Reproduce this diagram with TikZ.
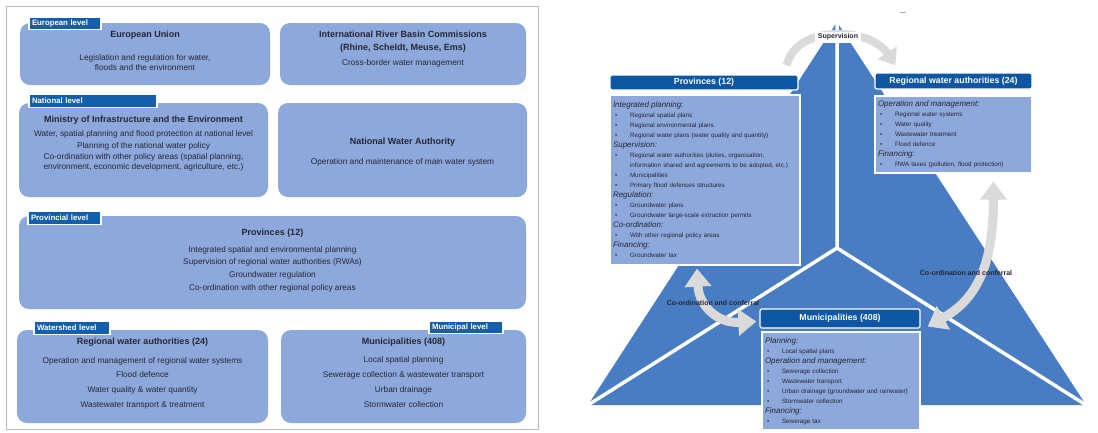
\documentclass[tikz,border=0pt]{standalone}
\usepackage{fontspec}
\setmainfont{Liberation Sans}
\usetikzlibrary{arrows.meta,calc}

\definecolor{boxblue}{RGB}{141,168,219}
\definecolor{tabblue}{RGB}{20,95,172}
\definecolor{hdrblue}{RGB}{12,86,162}
\definecolor{triblue}{RGB}{72,125,195}
\definecolor{arrgray}{RGB}{218,218,218}
\definecolor{ink}{RGB}{38,38,52}
\definecolor{framegray}{RGB}{185,185,185}

% list helpers for the responsibility boxes
\newcommand{\rphead}[1]{{\fontsize{8}{10}\selectfont\itshape #1}}
\newcommand{\rpitem}[1]{\hspace*{2pt}\makebox[15pt][l]{\textbullet}#1}
\newcommand{\rpcont}[1]{\hspace*{17pt}#1}

\begin{document}
\begin{tikzpicture}[x=1pt,y=-1pt,
  lbox/.style={fill=boxblue, rounded corners=10pt, inner sep=0pt},
  tab/.style={draw=white, line width=1.2pt, fill=tabblue, text=white,
    font=\fontsize{7.8}{9}\selectfont\bfseries, inner xsep=3pt, inner ysep=0pt,
    align=left, minimum height=12.5pt},
  ttl/.style={text=ink, font=\fontsize{9}{12.5}\selectfont\bfseries, align=center, inner sep=0pt},
  txt/.style={text=ink, font=\fontsize{8.3}{10}\selectfont, align=center, inner sep=0pt},
  hdr/.style={fill=hdrblue, draw=white, line width=1.3pt, rounded corners=2pt, text=white,
    font=\fontsize{8.8}{10}\selectfont\bfseries, inner sep=0pt},
  cbox/.style={fill=boxblue, draw=white, line width=1.3pt, text=ink, align=left,
    inner xsep=3pt, inner ysep=0pt, font=\fontsize{6.3}{10}\selectfont},
  coarr/.style={draw=arrgray, line width=9pt,
    arrows={Triangle[width=26pt,length=18pt]-Triangle[width=26pt,length=18pt]}},
  suparr/.style={draw=arrgray, line width=8pt, arrows={-Triangle[width=22pt,length=15pt]}},
  arrlabel/.style={text=ink, font=\fontsize{7}{8}\selectfont\bfseries, inner sep=0pt}
]
\useasboundingbox (0,0) rectangle (1098,432);
\fill[white] (0,0) rectangle (1098,432);

% ---------------- governance levels ----------------
\draw[framegray, line width=1pt] (6.5,6.5) rectangle (538,429);

% European level
\node[lbox, minimum width=250pt, minimum height=62pt] (eu) at (145,54) {};
\node[ttl] (eutitle) at (145,35) {European Union};
\node[txt] (eubody) at (145,63) {Legislation and regulation for water,\\floods and the environment};

\node[lbox, minimum width=246pt, minimum height=62pt] (irbc) at (403,54) {};
\node[ttl] (irbctitle) at (403,41.5) {International River Basin Commissions\\(Rhine, Scheldt, Meuse, Ems)};
\node[txt] (irbcbody) at (403,63) {Cross-border water management};

% National level
\node[lbox, minimum width=249pt, minimum height=94pt] (ministry) at (143.5,150) {};
\node[ttl] (mintitle) at (143.5,120) {Ministry of Infrastructure and the Environment};
\node[txt] (minone) at (143.5,134) {Water, spatial planning and flood protection at national level};
\node[txt] (mintwo) at (143.5,146) {Planning of the national water policy};
\node[txt] (minthree) at (143.5,162.5) {Co-ordination with other policy areas (spatial planning,\\environment, economic development, agriculture, etc.)};

\node[lbox, minimum width=249pt, minimum height=94pt] (nwa) at (402.5,150) {};
\node[ttl] (nwatitle) at (402.5,142) {National Water Authority};
\node[txt] (nwabody) at (402.5,162) {Operation and maintenance of main water system};

% Provincial level
\node[lbox, minimum width=507pt, minimum height=93pt] (prov) at (272.5,262.5) {};
\node[ttl] (provtitle) at (272.5,233) {Provinces (12)};
\node[txt, font=\fontsize{8.3}{12.7}\selectfont] (provbody) at (272.5,269)
  {Integrated spatial and environmental planning\\Supervision of regional water authorities (RWAs)\\Groundwater regulation\\Co-ordination with other regional policy areas};

% Watershed and municipal level
\node[lbox, minimum width=251pt, minimum height=93pt] (rwa) at (142.5,376.5) {};
\node[ttl] (rwatitle) at (142.5,342) {Regional water authorities (24)};
\node[txt, font=\fontsize{8.3}{14.7}\selectfont] (rwabody) at (142.5,383)
  {Operation and management of regional water systems\\Flood defence\\Water quality \& water quantity\\Wastewater transport \& treatment};

\node[lbox, minimum width=245pt, minimum height=93pt] (mun) at (403.5,376.5) {};
\node[ttl] (muntitle) at (403.5,342) {Municipalities (408)};
\node[txt, font=\fontsize{8.3}{14.7}\selectfont] (munbody) at (403.5,382)
  {Local spatial planning\\Sewerage collection \& wastewater transport\\Urban drainage\\Stormwater collection};

% level tabs
\node[tab, text width=66pt] (tabeu) at (65,23.5) {European level};
\node[tab, text width=122pt] (tabnat) at (93,101) {National level};
\node[tab, text width=67pt] (tabprov) at (64.5,218) {Provincial level};
\node[tab, text width=70pt] (tabws) at (72,328) {Watershed level};
\node[tab, text width=68pt] (tabmun) at (466,327.5) {Municipal level};

% ---------------- triangle of responsibilities ----------------
\coordinate (apex) at (837,22);
\coordinate (cornerL) at (588,405);
\coordinate (cornerR) at (1086,405);
\coordinate (hub) at (837,248);
\fill[triblue] (apex) -- (cornerL) -- (cornerR) -- cycle;
\draw[white, line width=3.5pt] (hub) -- (apex) (hub) -- (cornerL) (hub) -- (cornerR);
\draw[gray!70, line width=1pt] (900,12) -- (906,12);

% Provinces
\node[hdr, minimum width=188pt, minimum height=15pt] (provh) at (704,82.5) {Provinces (12)};
\node[cbox, text width=184pt, minimum height=170pt] (provc) at (705,180) {%
\rphead{Integrated planning:}\\
\rpitem{Regional spatial plans}\\
\rpitem{Regional environmental plans}\\
\rpitem{Regional water plans (water quality and quantity)}\\
\rphead{Supervision:}\\
\rpitem{Regional water authorities (duties, organisation,}\\
\rpcont{information shared and agreements to be adopted, etc.)}\\
\rpitem{Municipalities}\\
\rpitem{Primary flood defences structures}\\
\rphead{Regulation:}\\
\rpitem{Groundwater plans}\\
\rpitem{Groundwater large-scale extraction permits}\\
\rphead{Co-ordination:}\\
\rpitem{With other regional policy areas}\\
\rphead{Financing:}\\
\rpitem{Groundwater tax}};

% Regional water authorities
\node[hdr, minimum width=157pt, minimum height=16pt] (rwah) at (953.5,81) {Regional water authorities (24)};
\node[cbox, text width=151pt, minimum height=77pt] (rwac) at (953.5,134.5) {%
\rphead{Operation and management:}\\
\rpitem{Regional water systems}\\
\rpitem{Water quality}\\
\rpitem{Wastewater treatment}\\
\rpitem{Flood defence}\\
\rphead{Financing:}\\
\rpitem{RWA taxes (pollution, flood protection)}};

% Municipalities
\node[hdr, minimum width=160pt, minimum height=19pt] (munh) at (840,318.5) {Municipalities (408)};
\node[cbox, text width=152pt, minimum height=98pt] (munc) at (841,381) {%
\rphead{Planning:}\\
\rpitem{Local spatial plans}\\
\rphead{Operation and management:}\\
\rpitem{Sewerage collection}\\
\rpitem{Wastewater transport}\\
\rpitem{Urban drainage (groundwater and rainwater)}\\
\rpitem{Stormwater collection}\\
\rphead{Financing:}\\
\rpitem{Sewerage tax}};

% relations between the three tiers
\draw[suparr] ([xshift=-12pt,yshift=9pt]provh.north east)
  .. controls +(10,-42) and +(-25,-38) .. ([xshift=21pt,yshift=7pt]rwah.north west);
\node[fill=white, inner sep=1.5pt, minimum width=46pt, minimum height=11pt,
  font=\fontsize{7}{8}\selectfont\bfseries, text=ink] (suplabel) at (838,37) {Supervision};

\draw[coarr] ([xshift=-8pt,yshift=-3pt]provc.south)
  .. controls +(2,38) and +(-38,2) .. ([xshift=-3pt,yshift=-3pt]munh.west);
\draw[coarr] ([xshift=40pt,yshift=-8pt]rwac.south)
  .. controls +(0,90) and +(45,-25) .. ([xshift=7pt,yshift=-8pt]munh.east);

\node[arrlabel] (colabelL) at (713,303) {Co-ordination and conferral};
\node[arrlabel] (colabelR) at (966,273) {Co-ordination and conferral};
\end{tikzpicture}
\end{document}
